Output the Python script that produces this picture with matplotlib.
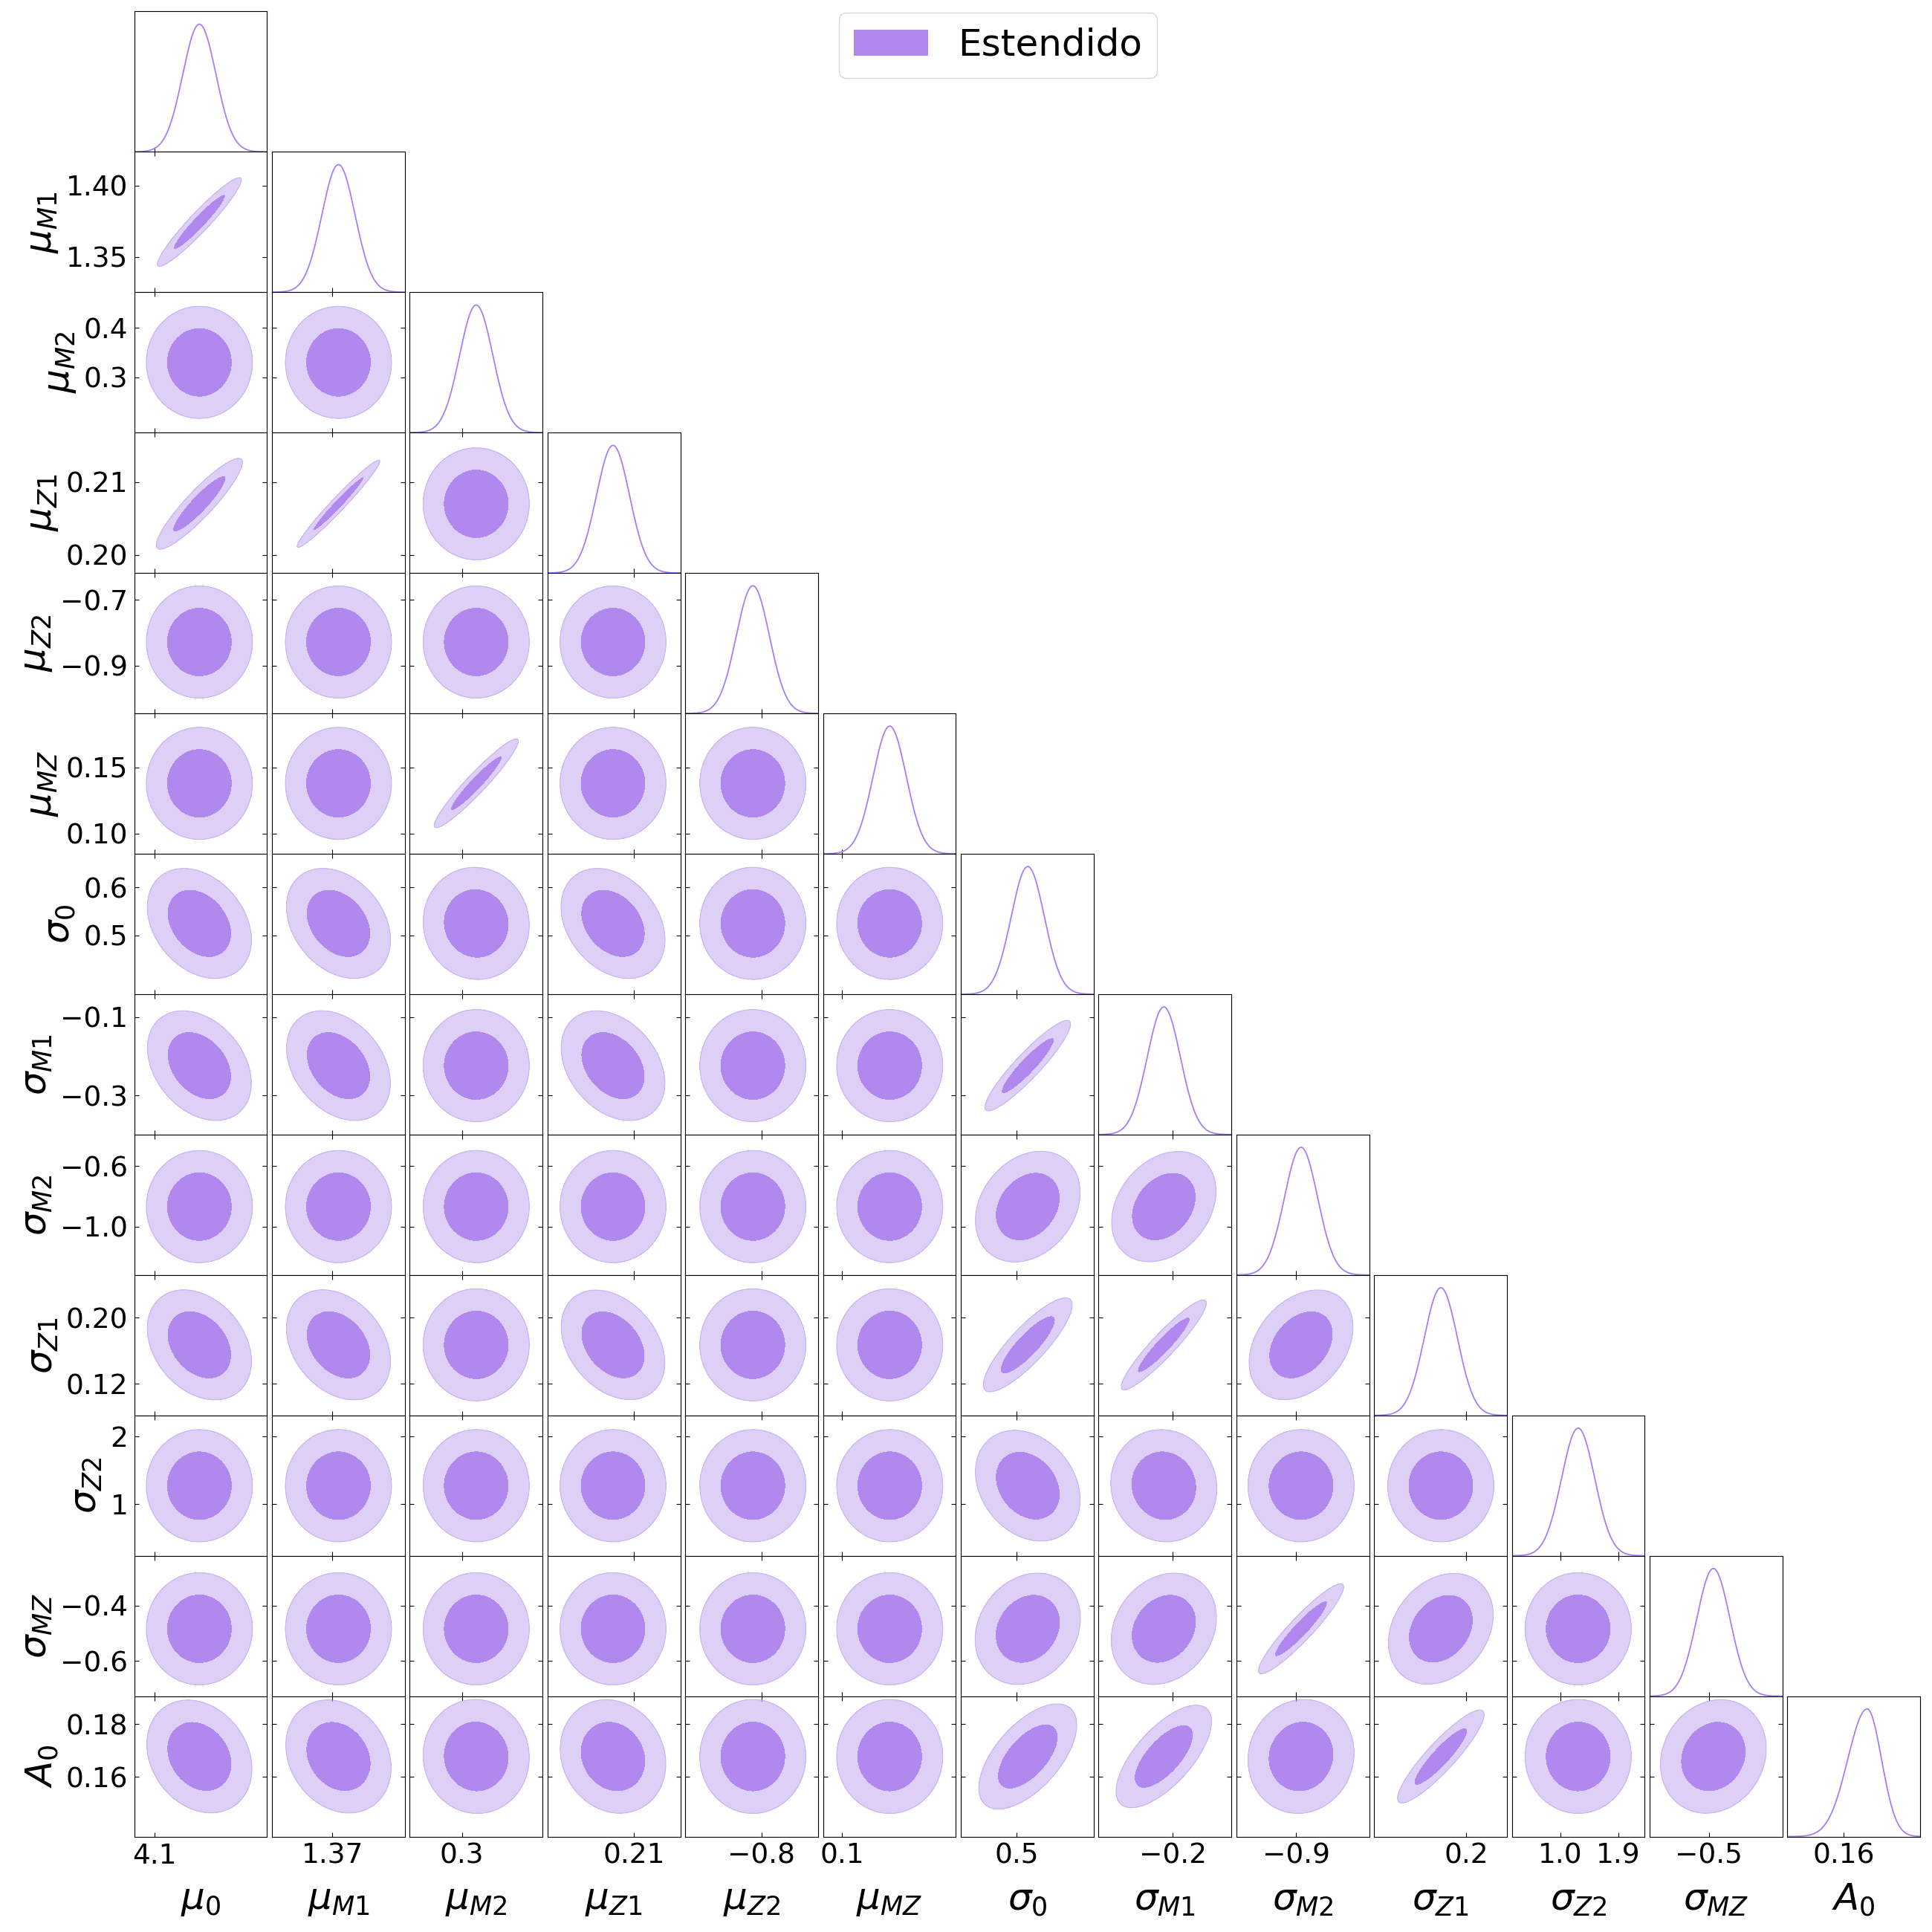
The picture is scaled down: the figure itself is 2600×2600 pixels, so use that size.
import numpy as np
import matplotlib
matplotlib.use("Agg")
import matplotlib.pyplot as plt
from matplotlib.patches import Patch

# parameter names (axis labels)
labels = [r"$\mu_0$", r"$\mu_{M1}$", r"$\mu_{M2}$", r"$\mu_{Z1}$", r"$\mu_{Z2}$",
          r"$\mu_{MZ}$", r"$\sigma_0$", r"$\sigma_{M1}$", r"$\sigma_{M2}$",
          r"$\sigma_{Z1}$", r"$\sigma_{Z2}$", r"$\sigma_{MZ}$", r"$A_0$"]

# plotted ranges
lo = [4.082, 1.3255, 0.1884, 0.19749, -1.0456, 0.08486, 0.3768, -0.3999,
      -1.3176, 0.0819, 0.242, -0.7269, 0.13744]
hi = [4.202, 1.4235, 0.4724, 0.21679, -0.6176, 0.1908, 0.6708, -0.0419,
      -0.3916, 0.2519, 2.312, -0.2193, 0.19064]

# marginal peaks and half widths (left / right side of the peak)
peak = [4.1408, 1.3745, 0.3304, 0.2070, -0.828, 0.1380, 0.525, -0.2241,
        -0.8666, 0.1673, 1.275, -0.4833, 0.1694]
sig_left = [0.0150, 0.01225, 0.0355, 0.00241, 0.0535, 0.01324, 0.03675, 0.04475,
            0.1158, 0.02125, 0.259, 0.0635, 0.00777]
sig_right = [0.0150, 0.01225, 0.0355, 0.00241, 0.0535, 0.01324, 0.03675, 0.04475,
             0.1158, 0.02125, 0.259, 0.0635, 0.00575]

# correlations, lower triangle (row i against columns 0..i-1)
corr_rows = [
    [],
    [0.95],
    [0, 0],
    [0.91, 0.975, 0],
    [0, 0, 0, 0],
    [0, 0, 0.95, 0, 0],
    [-0.3, -0.3, -0.03, -0.3, 0, 0],
    [-0.32, -0.32, 0, -0.32, 0, 0, 0.92],
    [0, 0, 0, 0, 0, 0, 0.25, 0.28],
    [-0.3, -0.3, 0, -0.33, 0, 0, 0.85, 0.93, 0.32],
    [0, 0, 0, 0, 0, 0, -0.25, -0.05, 0, 0],
    [0, 0, 0, 0, 0, 0, 0.19, 0.2, 0.93, 0.25, 0],
    [-0.22, -0.2, -0.02, -0.13, 0, 0, 0.6, 0.68, 0.06, 0.9, 0, 0.14],
]

xticks = [[4.1], [1.37], [0.3], [0.21], [-0.8], [0.1], [0.5], [-0.2], [-0.9],
          [0.2], [1.0, 1.9], [-0.5], [0.16]]
xticklabels = [["4.1"], ["1.37"], ["0.3"], ["0.21"], ["\u22120.8"], ["0.1"], ["0.5"],
               ["\u22120.2"], ["\u22120.9"], ["0.2"], ["1.0", "1.9"], ["\u22120.5"], ["0.16"]]
yticks = [[], [1.35, 1.40], [0.3, 0.4], [0.20, 0.21], [-0.9, -0.7], [0.10, 0.15],
          [0.5, 0.6], [-0.3, -0.1], [-1.0, -0.6], [0.12, 0.20], [1, 2], [-0.6, -0.4],
          [0.16, 0.18]]
yticklabels = [[], ["1.35", "1.40"], ["0.3", "0.4"], ["0.20", "0.21"],
               ["\u22120.9", "\u22120.7"], ["0.10", "0.15"], ["0.5", "0.6"],
               ["\u22120.3", "\u22120.1"], ["\u22121.0", "\u22120.6"], ["0.12", "0.20"],
               ["1", "2"], ["\u22120.6", "\u22120.4"], ["0.16", "0.18"]]

legend_label = "Estendido"

C_IN = "#b088ee"
C_OUT = "#decff6"
C_EDGE = "#c9b4f3"
C_LINE = "#a87ff0"
LEVELS = [2.279, 5.991]   # 68% / 95% of a 2D gaussian
SMOOTH = 0.7              # kde broadening of the 2D contours

n = len(labels)
lo = np.array(lo); hi = np.array(hi)
peak = np.array(peak)
sig_left = np.array(sig_left); sig_right = np.array(sig_right)
centre = peak + np.sqrt(2 / np.pi) * (sig_right - sig_left)
width = 0.5 * (sig_left + sig_right)

fig, axes = plt.subplots(n, n, figsize=(26, 26), dpi=100,
                         gridspec_kw=dict(left=0.0695, right=0.9939, top=0.9941,
                                          bottom=0.0494, wspace=0.0369, hspace=0))

for i in range(n):
    for j in range(n):
        ax = axes[i, j]
        if j > i:
            ax.remove()
            continue
        ax.set_xlim(lo[j], hi[j])
        ax.tick_params(direction="in", length=4, width=0.8, labelsize=27, pad=6)
        if i == j:
            x = np.linspace(lo[j], hi[j], 400)
            s = np.where(x < peak[j], sig_left[j], sig_right[j])
            p = np.exp(-0.5 * ((x - peak[j]) / s) ** 2)
            ax.plot(x, p, color=C_LINE, lw=1.3)
            ax.set_ylim(0, 1.1)
            ax.set_yticks([])
            ax.tick_params(top=False, right=False)
        else:
            r = corr_rows[i][j]
            s2 = 1 + SMOOTH * (1 - r * r)
            x = np.linspace(lo[j], hi[j], 240)
            y = np.linspace(lo[i], hi[i], 240)
            X, Y = np.meshgrid(x, y)
            u = (X - centre[j]) / width[j]
            v = (Y - centre[i]) / width[i]
            q = (u * u - 2 * r * u * v + v * v) / ((1 - r * r) * s2)
            ax.contourf(X, Y, q, levels=[-1] + LEVELS, colors=[C_IN, C_OUT])
            ax.contour(X, Y, q, levels=[LEVELS[1]], colors=[C_EDGE], linewidths=0.8)
            ax.set_ylim(lo[i], hi[i])
            ax.set_yticks(yticks[i])
            ax.tick_params(top=True, right=True)
            if j == 0:
                ax.set_yticklabels(yticklabels[i])
                ax.set_ylabel(labels[i], fontsize=36, labelpad=6)
            else:
                ax.set_yticklabels([])
        ax.set_xticks(xticks[j])
        if i == n - 1:
            ax.set_xticklabels(xticklabels[j])
            ax.set_xlabel(labels[j], fontsize=36, labelpad=12)
        else:
            ax.set_xticklabels([])

fig.legend(handles=[Patch(facecolor=C_IN)], labels=[legend_label],
           loc="upper center", bbox_to_anchor=(0.5165, 0.9935), fontsize=36,
           borderaxespad=0)

fig.savefig("out.png", dpi=100)
